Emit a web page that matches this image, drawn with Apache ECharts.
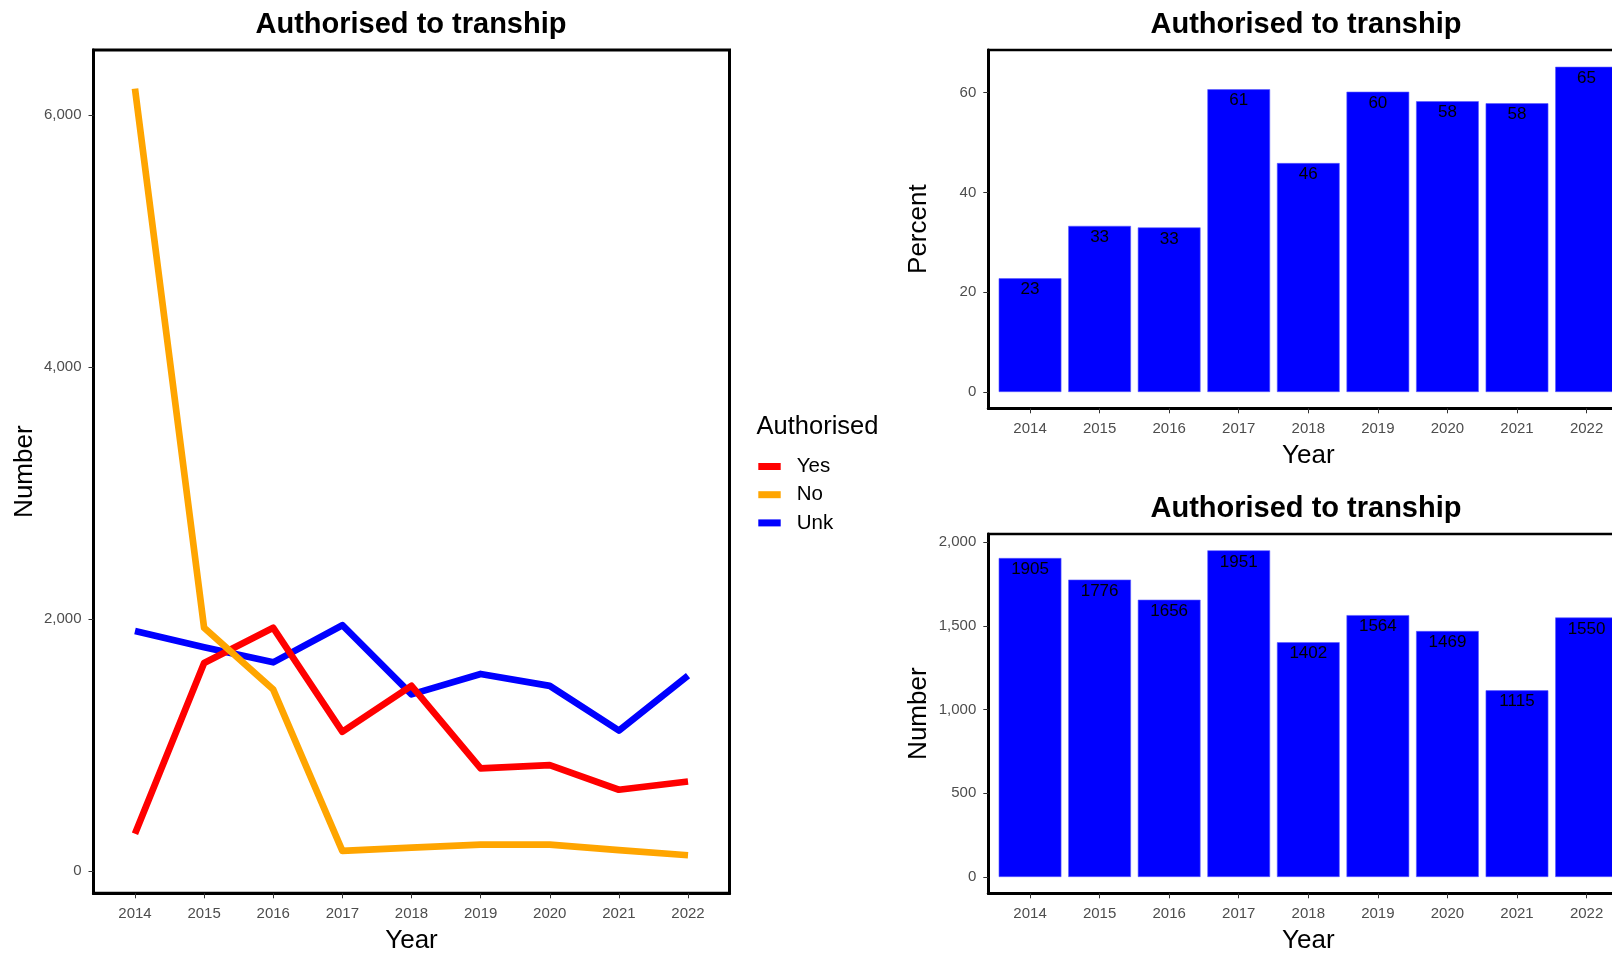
<!DOCTYPE html>
<html>
<head>
<meta charset="utf-8">
<title>Authorised to tranship</title>
<script src="https://cdn.jsdelivr.net/npm/echarts@6/dist/echarts.min.js"></script>
<style>
  html, body { margin: 0; padding: 0; background: #fff; }
  #main { width: 1612px; height: 954px; }
</style>
</head>
<body>
<div id="main"></div>
<script>
// data
var years = [2014, 2015, 2016, 2017, 2018, 2019, 2020, 2021, 2022];
var yesCounts = [295, 1650, 1930, 1105, 1470, 815, 840, 645, 710];
var noCounts = [6210, 1930, 1440, 160, 185, 210, 210, 165, 125];
var unkCounts = [1905, 1776, 1656, 1951, 1402, 1564, 1469, 1115, 1550];
var unkPercent = [22.8, 33.3, 33.0, 60.7, 45.9, 60.2, 58.3, 57.9, 65.2];
var lineTicks = [0, 2000, 4000, 6000];
var percentTicks = [0, 20, 40, 60];
var numberTicks = [0, 500, 1000, 1500, 2000];
var legendNames = ['Yes', 'No', 'Unk'];

var FONT = "'Liberation Sans', Arial, sans-serif";
var tickColor = '#4d4d4d';

function pairs(vals) {
    return years.map(function (y, i) { return [y, vals[i]]; });
}
function comma(v) {
    return Number(v).toLocaleString('en-US');
}

function xAxisFor(idx) {
    return {
        type: 'value',
        gridIndex: idx,
        min: 2013.4,
        max: 2022.6,
        splitLine: {show: false},
        axisLine: {show: true, onZero: false, lineStyle: {color: '#000', width: 3}},
        axisTick: {show: true, customValues: years, length: 5, lineStyle: {color: '#333', width: 1}},
        axisLabel: {
            customValues: years,
            margin: 13,
            color: tickColor,
            fontSize: 15,
            fontFamily: FONT,
            formatter: function (v) { return String(v); }
        },
        name: 'Year',
        nameLocation: 'middle',
        nameGap: 35,
        nameTextStyle: {color: '#000', fontSize: 26, fontFamily: FONT}
    };
}

function yAxisFor(idx, min, max, ticks, fmt, title) {
    return {
        type: 'value',
        gridIndex: idx,
        min: min,
        max: max,
        splitLine: {show: false},
        axisLine: {show: true, onZero: false, lineStyle: {color: '#000', width: 3}},
        axisTick: {show: true, customValues: ticks, length: 5, lineStyle: {color: '#333', width: 1}},
        axisLabel: {
            customValues: ticks,
            margin: 12,
            color: tickColor,
            fontSize: 15,
            fontFamily: FONT,
            formatter: fmt
        },
        name: title,
        nameLocation: 'middle',
        nameGap: 56,
        nameTextStyle: {color: '#000', fontSize: 26, fontFamily: FONT}
    };
}

function titleFor(x, y, text) {
    return {
        text: text,
        left: x,
        top: y,
        padding: 0,
        textAlign: 'center',
        textStyle: {color: '#000', fontSize: 29, fontWeight: 'bold', fontFamily: FONT}
    };
}

function lineSeries(name, color, vals) {
    return {
        name: name,
        type: 'line',
        xAxisIndex: 0,
        yAxisIndex: 0,
        data: pairs(vals),
        symbol: 'none',
        color: color,
        lineStyle: {color: color, width: 6.7, cap: 'butt', join: 'round'},
        animation: false
    };
}

function barSeries(idx, vals, labelFn) {
    return {
        type: 'bar',
        xAxisIndex: idx,
        yAxisIndex: idx,
        data: pairs(vals),
        barWidth: 62.7,
        itemStyle: {color: '#0000ff', borderColor: '#5a5aff', borderWidth: 0.6},
        label: {
            show: true,
            position: 'insideTop',
            distance: 3,
            color: '#000',
            fontSize: 17,
            fontFamily: FONT,
            formatter: function (p) { return labelFn(p.value[1]); }
        },
        animation: false
    };
}

var chart = echarts.init(document.getElementById('main'), null, {renderer: 'canvas'});

var option = {
    backgroundColor: '#fff',
    animation: false,
    textStyle: {fontFamily: FONT},
    title: [
        titleFor(411, 10.5, 'Authorised to tranship'),
        titleFor(1306, 10.5, 'Authorised to tranship'),
        titleFor(1306, 494.5, 'Authorised to tranship'),
        {
            text: 'Authorised',
            left: 756.5,
            top: 414,
            padding: 0,
            textStyle: {color: '#000', fontSize: 25.5, fontWeight: 'normal', fontFamily: FONT}
        }
    ],
    legend: {
        data: legendNames,
        orient: 'vertical',
        left: 758.3,
        top: 456,
        padding: 0,
        icon: 'rect',
        itemWidth: 22.4,
        itemHeight: 7,
        itemGap: 7.2,
        textStyle: {color: '#000', fontSize: 20.5, lineHeight: 21, fontFamily: FONT, padding: [0, 0, 0, 11]}
    },
    grid: [
        {left: 93.5, top: 50, width: 636, height: 843.3, show: true, borderColor: '#000', borderWidth: 3, outerBoundsMode: 'none'},
        {left: 988.3, top: 50, width: 640, height: 358.3, show: true, borderColor: '#000', borderWidth: 2.5, outerBoundsMode: 'none'},
        {left: 988.3, top: 534, width: 640, height: 359.3, show: true, borderColor: '#000', borderWidth: 2.5, outerBoundsMode: 'none'}
    ],
    xAxis: [xAxisFor(0), xAxisFor(1), xAxisFor(2)],
    yAxis: [
        yAxisFor(0, -177, 6516, lineTicks, comma, 'Number'),
        yAxisFor(1, -3.27, 68.57, percentTicks, function (v) { return String(v); }, 'Percent'),
        yAxisFor(2, -97.55, 2048.55, numberTicks, comma, 'Number')
    ],
    series: [
        lineSeries('Unk', '#0000ff', unkCounts),
        lineSeries('Yes', '#ff0000', yesCounts),
        lineSeries('No', '#ffa500', noCounts),
        barSeries(1, unkPercent, function (v) { return Math.round(v); }),
        barSeries(2, unkCounts, function (v) { return v; })
    ]
};

chart.setOption(option);
</script>
</body>
</html>
